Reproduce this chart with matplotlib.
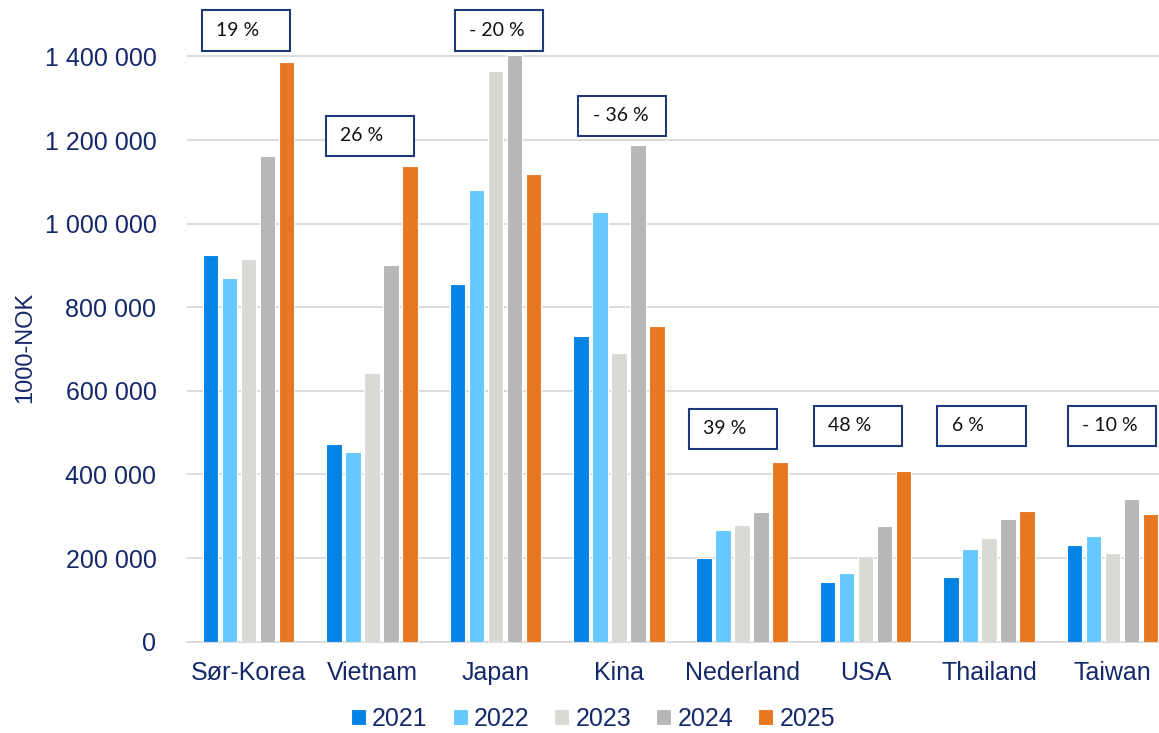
import matplotlib
matplotlib.use("Agg")
import matplotlib.pyplot as plt
from matplotlib.patches import Rectangle
import numpy as np

countries = ["Sør-Korea", "Vietnam", "Japan", "Kina", "Nederland", "USA", "Thailand", "Taiwan"]
years = ["2021", "2022", "2023", "2024", "2025"]

v2021 = [925000, 473000, 856000, 731000, 201000, 142000, 154000, 231000]
v2022 = [871000, 454000, 1080000, 1028000, 266000, 164000, 222000, 254000]
v2023 = [915000, 643000, 1366000, 691000, 280000, 204000, 248000, 213000]
v2024 = [1161000, 900000, 1403000, 1188000, 310000, 276000, 294000, 341000]
v2025 = [1386000, 1138000, 1118000, 755000, 430000, 408000, 312000, 306000]

change_labels = ["19 %", "26 %", "- 20 %", "- 36 %", "39 %", "48 %", "6 %", "- 10 %"]

colors = ["#0483E6", "#66C8FE", "#DAD9D5", "#B6B7B9", "#E87722"]
navy = "#15286B"

plt.rcParams["font.family"] = ["Liberation Sans", "DejaVu Sans"]

fig = plt.figure(figsize=(11.59, 7.33), dpi=100)
ax = fig.add_axes([187 / 1159, 1 - 641.7 / 733, (1174 - 187) / 1159, 641.7 / 733])

x = np.arange(len(countries))
pitch = 0.154
width = 0.125
series = [v2021, v2022, v2023, v2024, v2025]
for i, (vals, yr, c) in enumerate(zip(series, years, colors)):
    ax.bar(x + (i - 2) * pitch, vals, width=width, color=c, edgecolor="white",
           linewidth=0.8, label=yr, zorder=3)

ax.set_xlim(-0.5, 7.5)
ax.set_ylim(0, 1.535e6)
ticks = np.arange(0, 1400001, 200000)
ax.set_yticks(ticks)
ax.set_yticklabels([f"{int(t):,}".replace(",", " ") for t in ticks])
ax.set_xticks(x)
ax.set_xticklabels(countries)
ax.tick_params(axis="both", length=0, labelsize=18, labelcolor=navy)
ax.tick_params(axis="y", pad=22)
ax.tick_params(axis="x", pad=14)
ax.grid(axis="y", color="#D9D9D9", linewidth=1.3, zorder=0)
for s in ["top", "right", "left"]:
    ax.spines[s].set_visible(False)
ax.spines["bottom"].set_color("#D9D9D9")
ax.spines["bottom"].set_linewidth(1.3)

fig.text(25 / 1159, 1 - 347 / 733, "1000-NOK", rotation=90, ha="center", va="center",
         fontsize=17, color=navy)

# change boxes above each group
box_off = [-0.381, -0.376, -0.331, -0.333, -0.434, -0.421, -0.417, -0.363]
box_bottom = [1.414e6, 1.162e6, 1.414e6, 1.210e6, 0.461e6, 0.468e6, 0.468e6, 0.468e6]
box_w = 0.715
box_h = 0.096e6
for xi, off, yb, lab in zip(x, box_off, box_bottom, change_labels):
    ax.add_patch(Rectangle((xi + off, yb), box_w, box_h, facecolor="white",
                           edgecolor="#1F3A78", linewidth=1.5, clip_on=False, zorder=5))
    ax.text(xi + off + 0.12, yb + box_h / 2, lab, ha="left", va="center",
            fontsize=14, family=["Lato", "DejaVu Sans"], color="#111111", zorder=6,
            clip_on=False)

fig.legend(loc="center", bbox_to_anchor=(593 / 1159, 1 - 719 / 733), ncol=5,
           frameon=False, fontsize=18, handlelength=0.6, handleheight=0.6,
           handletextpad=0.25, columnspacing=1.0, labelcolor=navy)

fig.savefig("out.png", dpi=100)
